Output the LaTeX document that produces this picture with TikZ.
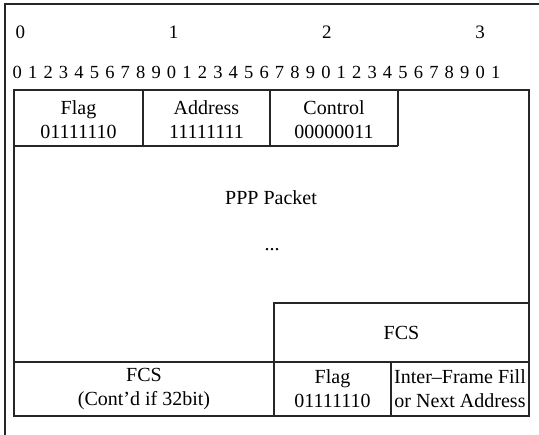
\documentclass[tikz,border=0pt]{standalone}
\usepackage{fontspec}
\setmainfont{Liberation Serif}
\begin{document}
\begin{tikzpicture}[x=1pt,y=-1pt]
\tikzset{
  frame/.style={line width=1.2pt, draw=black!85},
  field/.style={align=center, font=\fontsize{20}{24}\selectfont, inner sep=0pt},
  hdr/.style={font=\fontsize{19}{22}\selectfont, inner sep=0pt, anchor=base},
  bitnum/.style={font=\fontsize{18.5}{20}\selectfont, inner sep=0pt, anchor=base}
}
\useasboundingbox (0,0) rectangle (539,435);
% outer frame
\draw[frame] (5,435) -- (5,4) -- (539,4);
% header numbers
\foreach \k in {0,1,2,3}{
  \node[hdr] (h\k) at ({20.3+153.3*\k},39) {\k};
}
% bit numbers
\foreach \i in {0,...,31}{
  \pgfmathtruncatemacro{\d}{mod(\i,10)}
  \node[bitnum] (b\i) at ({17.3+15.43*\i},79) {\d};
}
% main box
\draw[frame] (14,90) rectangle (529,416);
% row 1
\draw[frame] (14,146) -- (398,146);
\draw[frame] (143,90) -- (143,146);
\draw[frame] (270,90) -- (270,146);
\draw[frame] (398,90) -- (398,146);
% FCS box
\draw[frame] (274,416) -- (274,303) -- (529,303);
\draw[frame] (14,362) -- (529,362);
\draw[frame] (391,362) -- (391,416);
% texts
\node[field] (flag1) at (78.5,120) {Flag\\01111110};
\node[field] (addr) at (206.5,120) {Address\\11111111};
\node[field] (ctrl) at (334,120) {Control\\00000011};
\node[field] (ppp) at (271,198) {PPP Packet};
\node[field] (dots) at (272,250) {...};
\node[field] (fcs1) at (401.5,333) {FCS};
\node[field] (fcs2) at (144,389) {FCS\\(Cont’d if 32bit)};
\node[field] (flag2) at (332.5,389) {Flag\\01111110};
\node[field] (ifg) at (460,389) {Inter–Frame Fill\\or Next Address};
\end{tikzpicture}
\end{document}
